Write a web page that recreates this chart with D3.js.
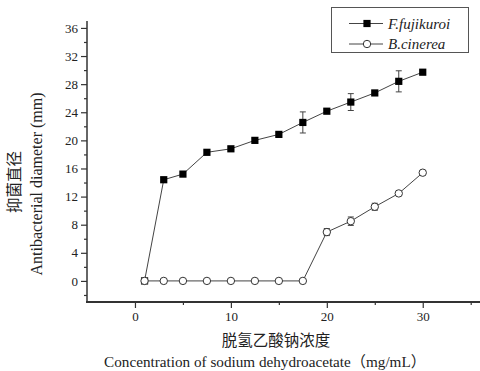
<!DOCTYPE html>
<html><head><meta charset="utf-8">
<script src="https://cdn.jsdelivr.net/npm/d3@7"></script>
<style>body{margin:0;background:#fff}svg{display:block}
.serif{font-family:"Times New Roman","Liberation Serif","DejaVu Serif",serif}
.cjk{font-family:"Noto Sans CJK SC",sans-serif}
.mixed{font-family:"Times New Roman","Liberation Serif","Noto Sans CJK SC",serif}
</style>
</head><body>
<svg id="c" width="480" height="371"></svg>
<script>
const concentrations = [1, 3, 5, 7.5, 10, 12.5, 15, 17.5, 20, 22.5, 25, 27.5, 30];
const fujikuroi = [0, 14.4, 15.2, 18.3, 18.8, 20.0, 20.85, 22.55, 24.15, 25.45, 26.75, 28.4, 29.7];
const fujikuroiErr = [0.2, 0.3, 0.3, 0.3, 0.3, 0.3, 0.3, 1.5, 0.3, 1.2, 0.3, 1.5, 0.3];
const cinerea = [0, 0, 0, 0, 0, 0, 0, 0, 6.95, 8.5, 10.55, 12.45, 15.4];
const cinereaErr = [0, 0, 0, 0, 0, 0, 0, 0, 0.5, 0.6, 0.5, 0.3, 0.3];
const xTicks = [0, 10, 20, 30];
const xMinor = [5, 15, 25, 35];
const yTicks = [0, 4, 8, 12, 16, 20, 24, 28, 32, 36];
const yMinor = [-2, 2, 6, 10, 14, 18, 22, 26, 30, 34];
const seriesNames = ["F.fujikuroi", "B.cinerea"];

const svg = d3.select("#c");
const x = d3.scaleLinear().domain([-5, 36]).range([87, 480.3]);
const y = d3.scaleLinear().domain([-3, 37]).range([302, 20.9]);
const axisColor = "#333";

// Y axis
const yAxis = svg.append("g").attr("transform", `translate(${x(-5)},0)`)
  .call(d3.axisLeft(y).tickValues(yTicks).tickSize(6).tickPadding(3).tickFormat(d3.format("d")));
yAxis.attr("font-family", null).attr("font-size", null);
yAxis.select(".domain").attr("stroke", axisColor).attr("stroke-width", 1.5).attr("d", `M0,${y(37)}V${y(-3)}`);
yAxis.selectAll(".tick line").attr("stroke", axisColor).attr("stroke-width", 1.2);
yAxis.selectAll("text").attr("class", "serif").style("font-size", "13px").attr("fill", "#222");
const yMinorG = svg.append("g").attr("transform", `translate(${x(-5)},0)`)
  .call(d3.axisLeft(y).tickValues(yMinor).tickSize(3).tickFormat(""));
yMinorG.select(".domain").remove();
yMinorG.selectAll(".tick line").attr("stroke", axisColor).attr("stroke-width", 1.2);

// X axis
const xAxis = svg.append("g").attr("transform", `translate(0,${y(-3)})`)
  .call(d3.axisBottom(x).tickValues(xTicks).tickSize(6).tickPadding(4).tickFormat(d3.format("d")));
xAxis.attr("font-family", null).attr("font-size", null);
xAxis.select(".domain").attr("stroke", axisColor).attr("stroke-width", 2).attr("d", `M${x(-5)-1},0H480`);
xAxis.selectAll(".tick line").attr("stroke", axisColor).attr("stroke-width", 1.2);
xAxis.selectAll("text").attr("class", "serif").style("font-size", "13px").attr("fill", "#222");
const xMinorG = svg.append("g").attr("transform", `translate(0,${y(-3)})`)
  .call(d3.axisBottom(x).tickValues(xMinor).tickSize(3).tickFormat(""));
xMinorG.select(".domain").remove();
xMinorG.selectAll(".tick line").attr("stroke", axisColor).attr("stroke-width", 1.2);

// Axis titles
svg.append("text").attr("x", 276).attr("y", 346).attr("text-anchor", "middle")
  .attr("class", "cjk").style("font-size", "15.5px").attr("fill", "#222")
  .text("脱氢乙酸钠浓度");
svg.append("text").attr("x", 265).attr("y", 367).attr("text-anchor", "middle")
  .attr("class", "mixed").style("font-size", "15.2px").attr("fill", "#222")
  .text("Concentration of sodium dehydroacetate（mg/mL）");
svg.append("text").attr("transform", "translate(20,182) rotate(-90)").attr("text-anchor", "middle")
  .attr("class", "cjk").style("font-size", "15.5px").attr("fill", "#222")
  .text("抑菌直径");
svg.append("text").attr("transform", "translate(42,184) rotate(-90)").attr("text-anchor", "middle")
  .attr("class", "serif").style("font-size", "16px").attr("fill", "#222")
  .text("Antibacterial diameter (mm)");

const line = d3.line().x(d => x(d[0])).y(d => y(d[1]));
function drawSeries(vals, errs, kind) {
  const data = concentrations.map((c, i) => [c, vals[i], errs[i]]);
  const g = svg.append("g");
  g.append("path").datum(data).attr("d", line).attr("fill", "none").attr("stroke", "#444").attr("stroke-width", 1);
  const eb = g.selectAll(".eb").data(data.filter(d => d[2] > 0)).enter().append("g").attr("stroke", "#444").attr("stroke-width", 1);
  eb.append("line").attr("x1", d => x(d[0])).attr("x2", d => x(d[0])).attr("y1", d => y(d[1] - d[2])).attr("y2", d => y(d[1] + d[2]));
  eb.append("line").attr("x1", d => x(d[0]) - 3).attr("x2", d => x(d[0]) + 3).attr("y1", d => y(d[1] + d[2])).attr("y2", d => y(d[1] + d[2]));
  eb.append("line").attr("x1", d => x(d[0]) - 3).attr("x2", d => x(d[0]) + 3).attr("y1", d => y(d[1] - d[2])).attr("y2", d => y(d[1] - d[2]));
  if (kind === "square") {
    g.selectAll(".m").data(data).enter().append("rect")
      .attr("x", d => x(d[0]) - 3.6).attr("y", d => y(d[1]) - 3.6).attr("width", 7.2).attr("height", 7.2).attr("fill", "#000");
  } else {
    g.selectAll(".m").data(data).enter().append("circle")
      .attr("cx", d => x(d[0])).attr("cy", d => y(d[1])).attr("r", 3.7).attr("fill", "#fff").attr("stroke", "#333").attr("stroke-width", 1);
  }
}
drawSeries(fujikuroi, fujikuroiErr, "square");
drawSeries(cinerea, cinereaErr, "circle");

// Legend
const lg = svg.append("g");
lg.append("rect").attr("x", 331.5).attr("y", 7.5).attr("width", 137).attr("height", 45).attr("fill", "#fff").attr("stroke", "#555").attr("stroke-width", 1);
seriesNames.forEach((n, i) => {
  const yy = 23.5 + i * 20.5;
  lg.append("line").attr("x1", 349).attr("x2", 383).attr("y1", yy).attr("y2", yy).attr("stroke", "#444");
  if (i === 0) lg.append("rect").attr("x", 363.4).attr("y", yy - 3.6).attr("width", 7.2).attr("height", 7.2).attr("fill", "#000");
  else lg.append("circle").attr("cx", 367).attr("cy", yy).attr("r", 3.7).attr("fill", "#fff").attr("stroke", "#333");
  lg.append("text").attr("x", 388).attr("y", yy + 5).attr("class", "serif").style("font-style", "italic")
    .style("font-size", "15px").attr("fill", "#222").text(n);
});
</script>
</body></html>
